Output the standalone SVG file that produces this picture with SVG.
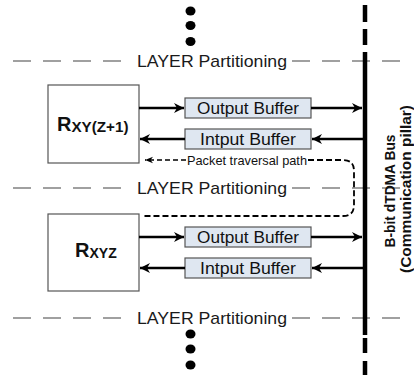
<svg xmlns="http://www.w3.org/2000/svg" width="414" height="378" viewBox="0 0 414 378">
<defs>
<marker id="ah" viewBox="0 0 10 10" refX="10" refY="5" markerWidth="10" markerHeight="10" markerUnits="userSpaceOnUse" orient="auto"><path d="M0,0 L10,5 L0,10 L3,5 z" fill="#000"/></marker>
<marker id="ahs" viewBox="0 0 10 10" refX="10" refY="5" markerWidth="8" markerHeight="8" markerUnits="userSpaceOnUse" orient="auto"><path d="M0,1 L10,5 L0,9 L3,5 z" fill="#000"/></marker>
<style>
.layer{stroke:#a0a0a0;stroke-width:2;stroke-dasharray:18 12;fill:none}
.ltxt{font-family:"Liberation Sans",Arial,sans-serif;font-size:17px;fill:#1a1a1a}
.box{fill:#fff;stroke:#555;stroke-width:1.2}
.buf{fill:#dfe7f1;stroke:#555;stroke-width:1.2}
.btxt{font-family:"Liberation Sans",Arial,sans-serif;font-size:17px;fill:#111;text-anchor:middle}
.arr{stroke:#000;stroke-width:2.5;fill:none}
.bus{stroke:#000;stroke-width:4.5;fill:none}
.rt{font-family:"Liberation Sans",Arial,sans-serif;font-weight:bold;fill:#111}
.dot{fill:#000}
.vt{font-family:"Liberation Sans",Arial,sans-serif;font-weight:bold;font-size:15.5px;fill:#111;text-anchor:middle}
</style>
</defs>

<g id="dots-top"><ellipse class="dot" cx="190.5" cy="11" rx="5" ry="4.5"/><ellipse class="dot" cx="190.5" cy="25.5" rx="5" ry="4.5"/><ellipse class="dot" cx="190.5" cy="41.5" rx="5" ry="4.5"/></g>
<g id="dots-bottom"><ellipse class="dot" cx="190.5" cy="334" rx="5" ry="4.5"/><ellipse class="dot" cx="190.5" cy="349" rx="5" ry="4.5"/><ellipse class="dot" cx="190.5" cy="365" rx="5" ry="4.5"/></g>

<g id="layer1"><path class="layer" d="M13,61 H132 M292,61 H408"/><text class="ltxt" x="137" y="67" textLength="150" lengthAdjust="spacingAndGlyphs">LAYER Partitioning</text></g>
<g id="layer2"><path class="layer" d="M13,188 H132 M292,188 H408"/><text class="ltxt" x="137" y="194" textLength="150" lengthAdjust="spacingAndGlyphs">LAYER Partitioning</text></g>
<g id="layer3"><path class="layer" d="M13,318 H132 M292,318 H408"/><text class="ltxt" x="137" y="324" textLength="150" lengthAdjust="spacingAndGlyphs">LAYER Partitioning</text></g>

<g id="bus">
<path class="bus" d="M365,5 V22 M365,29 V45 M365,52 V335 M365,338 V353 M365,361 V375"/>
<text class="vt" transform="translate(395,191) rotate(-90)" textLength="113" lengthAdjust="spacingAndGlyphs">B-bit dTDMA Bus</text>
<text class="vt" transform="translate(410.5,189) rotate(-90)" textLength="168" lengthAdjust="spacingAndGlyphs">(Communication pillar)</text>
</g>

<g id="r-upper"><rect class="box" x="48" y="85" width="91" height="78"/><text class="rt" x="57" y="131"><tspan font-size="20">R</tspan><tspan font-size="14" dy="1" textLength="57" lengthAdjust="spacingAndGlyphs">XY(Z+1)</tspan></text></g>
<g id="r-lower"><rect class="box" x="48" y="214" width="91" height="77"/><text class="rt" x="75" y="257"><tspan font-size="20">R</tspan><tspan font-size="14" dy="1">XYZ</tspan></text></g>

<g id="out1"><rect class="buf" x="185" y="98" width="126" height="20"/><text class="btxt" x="248" y="114" textLength="102" lengthAdjust="spacingAndGlyphs">Output Buffer</text></g>
<g id="in1"><rect class="buf" x="185" y="129" width="126" height="20"/><text class="btxt" x="248" y="145" textLength="96" lengthAdjust="spacingAndGlyphs">Intput Buffer</text></g>
<g id="out2"><rect class="buf" x="185" y="227" width="126" height="20"/><text class="btxt" x="248" y="243" textLength="102" lengthAdjust="spacingAndGlyphs">Output Buffer</text></g>
<g id="in2"><rect class="buf" x="185" y="258" width="126" height="20"/><text class="btxt" x="248" y="274" textLength="96" lengthAdjust="spacingAndGlyphs">Intput Buffer</text></g>

<g id="connectors">
<path class="arr" d="M139,108 H184" marker-end="url(#ah)"/>
<path class="arr" d="M311,108 H362" marker-end="url(#ah)"/>
<path class="arr" d="M364,139 H312" marker-end="url(#ah)"/>
<path class="arr" d="M185,139 H140" marker-end="url(#ah)"/>
<path class="arr" d="M139,237 H184" marker-end="url(#ah)"/>
<path class="arr" d="M311,237 H362" marker-end="url(#ah)"/>
<path class="arr" d="M364,268 H312" marker-end="url(#ah)"/>
<path class="arr" d="M185,268 H140" marker-end="url(#ah)"/>
<path d="M186,160 H145" stroke="#000" stroke-width="1.5" stroke-dasharray="5 3" fill="none" marker-end="url(#ahs)"/>
<path d="M308,160 H343 Q354,160 354,171 V205 Q354,216 343,216 H143" stroke="#000" stroke-width="1.8" stroke-dasharray="6 3" fill="none"/>
<text x="247" y="164.5" font-family="Liberation Sans,Arial,sans-serif" font-size="13" fill="#111" text-anchor="middle" textLength="120" lengthAdjust="spacingAndGlyphs">Packet traversal path</text>
</g>
</svg>
